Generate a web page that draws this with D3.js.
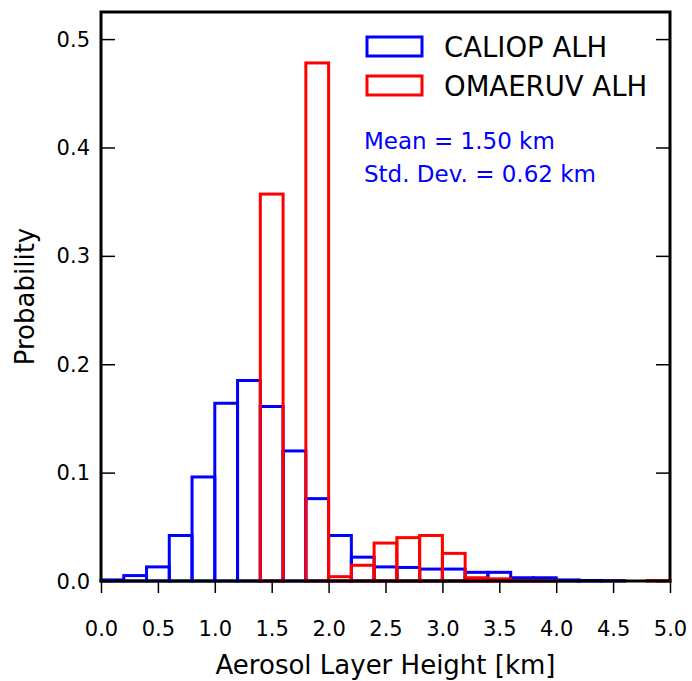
<!DOCTYPE html>
<html>
<head>
<meta charset="utf-8">
<script src="https://cdn.jsdelivr.net/npm/d3@7"></script>
<style>
  body { margin: 0; background: #fff; }
  text { font-family: "DejaVu Sans", sans-serif; }
</style>
</head>
<body>
<div id="chart"></div>
<script>
// bin edges (km), 0.2 km wide
const binEdges = d3.range(0, 5.0001, 0.2).map(v => +v.toFixed(1));
// probability per bin
const caliop = [0.001, 0.005, 0.013, 0.042, 0.096, 0.164, 0.185, 0.161, 0.120, 0.076,
                0.042, 0.022, 0.013, 0.0125, 0.011, 0.011, 0.008, 0.008, 0.003, 0.003,
                0.001, 0.0005, 0.0003, 0, 0];
const omaeruv = [0, 0, 0, 0, 0, 0, 0, 0.357, 0, 0.478,
                 0.004, 0.0145, 0.035, 0.040, 0.042, 0.0255, 0.003, 0.002, 0.0004, 0.0002,
                 0, 0, 0, 0, 0.0004];
const seriesNames = ["CALIOP ALH", "OMAERUV ALH"];
const seriesColors = ["#0000ff", "#ff0000"];
const xTicks = [0, 0.5, 1, 1.5, 2, 2.5, 3, 3.5, 4, 4.5, 5];
const yTicks = [0, 0.1, 0.2, 0.3, 0.4, 0.5];
const statsLines = ["Mean = 1.50 km", "Std. Dev. = 0.62 km"];

const width = 692, height = 681;
const plot = { left: 101, right: 670, top: 12, bottom: 581 };

const svg = d3.select("#chart").append("svg")
    .attr("width", width)
    .attr("height", height);

const xScale = d3.scaleLinear().domain([0, 5]).range([plot.left, plot.right]);
const yScale = d3.scaleLinear().domain([0, 0.525]).range([plot.bottom, plot.top]);

// bars, blue first, red drawn on top
[caliop, omaeruv].forEach((vals, s) => {
    svg.append("g").selectAll("rect")
        .data(vals)
        .enter().append("rect")
        .attr("x", (d, i) => xScale(binEdges[i]))
        .attr("y", d => yScale(d))
        .attr("width", (d, i) => xScale(binEdges[i + 1]) - xScale(binEdges[i]))
        .attr("height", d => yScale(0) - yScale(d))
        .attr("fill", "none")
        .attr("stroke", seriesColors[s])
        .attr("stroke-width", 3);
});

// axes
const xAxis = d3.axisBottom(xScale).tickValues(xTicks).tickFormat(d3.format(".1f"))
    .tickSize(12).tickPadding(28);
svg.append("g")
    .attr("transform", "translate(0," + plot.bottom + ")")
    .call(xAxis)
    .call(g => g.select(".domain").remove())
    .call(g => g.selectAll("line").attr("stroke", "#000").attr("stroke-width", 1.5))
    .call(g => g.selectAll("text").attr("font-size", 21).attr("fill", "#000"));

svg.append("g")
    .attr("transform", "translate(" + plot.left + ",0)")
    .call(d3.axisRight(yScale).tickValues(yTicks).tickSize(14).tickFormat(""))
    .call(g => g.select(".domain").remove())
    .call(g => g.selectAll("line").attr("stroke", "#000").attr("stroke-width", 1.5));

svg.append("g")
    .attr("transform", "translate(" + plot.right + ",0)")
    .call(d3.axisLeft(yScale).tickValues(yTicks).tickSize(14).tickFormat(""))
    .call(g => g.select(".domain").remove())
    .call(g => g.selectAll("line").attr("stroke", "#000").attr("stroke-width", 1.5));

svg.append("g").selectAll("text")
    .data(yTicks)
    .enter().append("text")
    .attr("x", plot.left - 11)
    .attr("y", d => yScale(d) + 7.5)
    .attr("text-anchor", "end")
    .attr("font-size", 21)
    .text(d => d3.format(".1f")(d));

// frame
svg.append("rect")
    .attr("x", plot.left)
    .attr("y", plot.top)
    .attr("width", plot.right - plot.left)
    .attr("height", plot.bottom - plot.top)
    .attr("fill", "none")
    .attr("stroke", "#000")
    .attr("stroke-width", 3);

// axis labels
svg.append("text")
    .attr("x", (plot.left + plot.right) / 2)
    .attr("y", 674)
    .attr("text-anchor", "middle")
    .attr("font-size", 26)
    .text("Aerosol Layer Height [km]");

svg.append("text")
    .attr("transform", "translate(34," + (plot.top + plot.bottom) / 2 + ") rotate(-90)")
    .attr("text-anchor", "middle")
    .attr("font-size", 26)
    .text("Probability");

// legend
const legend = svg.append("g");
seriesNames.forEach((name, i) => {
    legend.append("rect")
        .attr("x", 367)
        .attr("y", 37 + i * 39)
        .attr("width", 55)
        .attr("height", 19)
        .attr("fill", "none")
        .attr("stroke", seriesColors[i])
        .attr("stroke-width", 3);
    legend.append("text")
        .attr("x", 444)
        .attr("y", 57 + i * 39)
        .attr("font-size", 27.5)
        .text(name);
});

svg.append("g").selectAll("text")
    .data(statsLines)
    .enter().append("text")
    .attr("x", 364)
    .attr("y", (d, i) => 149 + i * 33)
    .attr("font-size", 23)
    .attr("fill", "#0000ff")
    .text(d => d);
</script>
</body>
</html>
